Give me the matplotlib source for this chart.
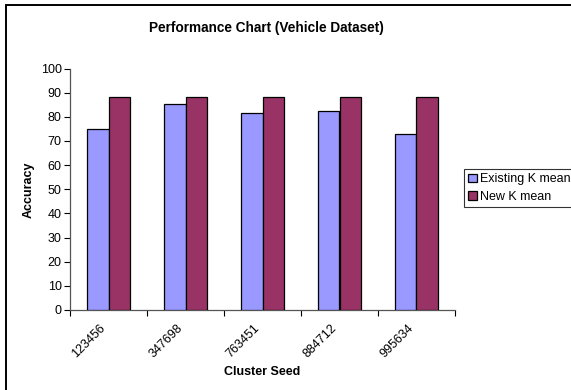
import matplotlib
matplotlib.use("Agg")
import matplotlib.pyplot as plt
import matplotlib.transforms as mtrans
from matplotlib.patches import Rectangle
import numpy as np

plt.rcParams["font.family"] = ["Liberation Sans", "DejaVu Sans"]

seeds = ["123456", "347698", "763451", "884712", "995634"]
existing_kmean = [75.0, 85.3, 81.4, 82.3, 72.7]
new_kmean = [88.0, 88.0, 88.0, 88.0, 88.0]

W, H = 571, 390
fig = plt.figure(figsize=(W / 100, H / 100), dpi=100)
ax = fig.add_axes([70 / W, 1 - 310 / H, 385 / W, (310 - 68.5) / H])

x = np.arange(len(seeds))
bw = 0.283
ax.bar(x - bw / 2, existing_kmean, bw, color="#9999FF", edgecolor="black",
       linewidth=0.9, label="Existing K mean", zorder=3)
ax.bar(x + bw / 2, new_kmean, bw, color="#993366", edgecolor="black",
       linewidth=0.9, label="New K mean", zorder=3)

ax.set_xlim(-0.5, len(seeds) - 0.5)
ax.set_ylim(0, 100)
ax.set_yticks(range(0, 101, 10))
ax.tick_params(axis="y", labelsize=9, length=4, width=0.8, pad=2)

# tick marks sit between categories, labels at the centres
ax.set_xticks(np.arange(-0.5, len(seeds)), labels=[""] * (len(seeds) + 1))
ax.set_xticks(x, labels=seeds, minor=True)
ax.tick_params(axis="x", which="major", length=4, width=0.8)
ax.tick_params(axis="x", which="minor", length=0, labelsize=9, pad=9)
shift = mtrans.ScaledTranslation(-9 / 100, 0, fig.dpi_scale_trans)
for lbl in ax.get_xticklabels(minor=True):
    lbl.set_rotation(45)
    lbl.set_ha("right")
    lbl.set_va("top")
    lbl.set_rotation_mode("anchor")
    lbl.set_transform(lbl.get_transform() + shift)

for side in ("top", "right"):
    ax.spines[side].set_visible(False)
for side in ("left", "bottom"):
    ax.spines[side].set_color("#555555")
    ax.spines[side].set_linewidth(0.9)

ax.set_ylabel("Accuracy", fontsize=9, fontweight="bold", labelpad=4)
ax.set_xlabel("Cluster Seed", fontsize=9, fontweight="bold", labelpad=4)

fig.text(266 / W, 1 - 28 / H, "Performance Chart (Vehicle Dataset)",
         ha="center", va="center", fontsize=9.8, fontweight="bold")

leg = fig.legend(loc="upper left", bbox_to_anchor=(464 / W, 1 - 169 / H),
                 bbox_transform=fig.transFigure, borderaxespad=0,
                 fontsize=9, frameon=True, fancybox=False,
                 handlelength=0.65, handleheight=0.65, handletextpad=0.3,
                 labelspacing=0.45, borderpad=0.35)
leg.get_frame().set_edgecolor("black")
leg.get_frame().set_linewidth(0.8)

# outer chart frame
fig.patches.append(Rectangle((6 / W, -0.05), 1.1, 1 - 5.5 / H + 0.05,
                             transform=fig.transFigure, fill=False,
                             edgecolor="black", linewidth=1.4))

fig.savefig("out.png", dpi=100)
